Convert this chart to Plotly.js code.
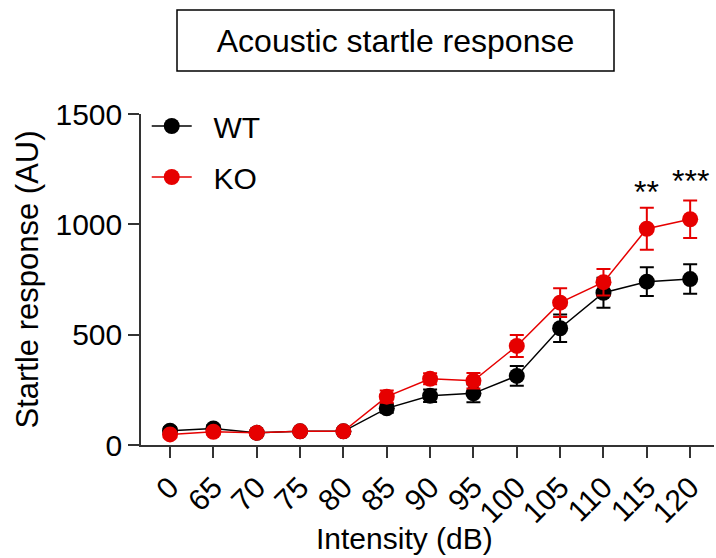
<!DOCTYPE html>
<html>
<head>
<meta charset="utf-8">
<script src="https://cdn.plot.ly/plotly-3.0.1.min.js"></script>
<style>html,body{margin:0;padding:0;background:#fff;}#chart{width:716px;height:558px;}</style>
</head>
<body>
<div id="chart"></div>
<script>
const categories = ["0","65","70","75","80","85","90","95","100","105","110","115","120"];
const wtMean = [65, 75, 55, 62, 62, 166, 223, 234, 313, 529, 690, 740, 752];
const wtErr  = [15, 15, 10, 10, 10, 20, 28, 40, 45, 62, 68, 65, 67];
const koMean = [48, 60, 55, 62, 62, 219, 300, 291, 449, 645, 738, 980, 1023];
const koErr  = [12, 12, 10, 10, 10, 28, 25, 35, 50, 65, 60, 95, 85];
const sigCats = ["115", "120"];
const sigText = ["**", "***"];
const sigY = [1055, 1108];

const FONT = '"Liberation Sans", Arial, sans-serif';
const RED = '#e60000';

const traces = [
  {
    x: categories, y: wtMean, name: '\u00a0\u00a0WT', type: 'scatter', mode: 'lines+markers',
    legendgroup: 'wt',
    line: {color: '#000000', width: 1.5},
    marker: {color: '#000000', size: 16, line: {color: '#000000', width: 0}},
    error_y: {type: 'data', array: wtErr, visible: true, color: '#000000', thickness: 2, width: 7}
  },
  {
    x: categories, y: koMean, name: '\u00a0\u00a0KO', type: 'scatter', mode: 'lines+markers',
    legendgroup: 'ko',
    line: {color: RED, width: 1.5},
    marker: {color: RED, size: 16, line: {color: RED, width: 0}},
    error_y: {type: 'data', array: koErr, visible: true, color: RED, thickness: 2, width: 7}
  }
];

const annotations = sigCats.map((c, i) => ({
  x: categories.indexOf(c), y: sigY[i], xref: 'x', yref: 'y', text: sigText[i], showarrow: false,
  xanchor: 'center', yanchor: 'bottom', font: {family: FONT, size: 32, color: '#000'}
}));
annotations.push({
  x: (404 - 141) / 573, y: 0, xref: 'paper', yref: 'paper', yshift: -93,
  text: 'Intensity (dB)', showarrow: false, xanchor: 'center', yanchor: 'middle',
  font: {family: FONT, size: 30, color: '#000'}
});

const layout = {
  width: 716, height: 558,
  margin: {l: 141, r: 2, t: 114, b: 113},
  paper_bgcolor: '#ffffff', plot_bgcolor: '#ffffff',
  font: {family: FONT, size: 30, color: '#000'},
  title: {
    text: 'Acoustic startle response', font: {family: FONT, size: 32, color: '#000'},
    x: 395.5 / 716, y: 1 - 41 / 558, xanchor: 'center', yanchor: 'middle', xref: 'container', yref: 'container'
  },
  shapes: [{
    type: 'rect', xref: 'paper', yref: 'paper',
    x0: (177 - 141) / 573, x1: (614 - 141) / 573,
    y0: (445 - 71) / 331, y1: (445 - 10) / 331,
    line: {color: '#000', width: 1.5}, fillcolor: 'rgba(0,0,0,0)'
  }],
  xaxis: {
    type: 'category', range: [-0.67, 12.55],
    showline: true, linecolor: '#333', linewidth: 1.5,
    ticks: 'outside', ticklen: 11, tickwidth: 1.5, tickcolor: '#333',
    tickangle: -45, tickfont: {family: FONT, size: 30, color: '#000'},
    showgrid: false, zeroline: false
  },
  yaxis: {
    range: [0, 1500], tickvals: [0, 500, 1000, 1500],
    showline: true, linecolor: '#333', linewidth: 1.5,
    ticks: 'outside', ticklen: 11, tickwidth: 1.5, tickcolor: '#333',
    tickfont: {family: FONT, size: 30, color: '#000'},
    showgrid: false, zeroline: false,
    title: {text: 'Startle response (AU)', font: {family: FONT, size: 31, color: '#000'}, standoff: 8}
  },
  showlegend: true,
  legend: {
    x: 0.01, y: 1 + 14 / 331, xanchor: 'left', yanchor: 'top',
    bgcolor: 'rgba(0,0,0,0)', font: {family: FONT, size: 30, color: '#000'},
    itemwidth: 40, traceorder: 'grouped', tracegroupgap: 9
  },
  annotations: annotations
};

Plotly.newPlot('chart', traces, layout, {displayModeBar: false, responsive: false});
</script>
</body>
</html>
